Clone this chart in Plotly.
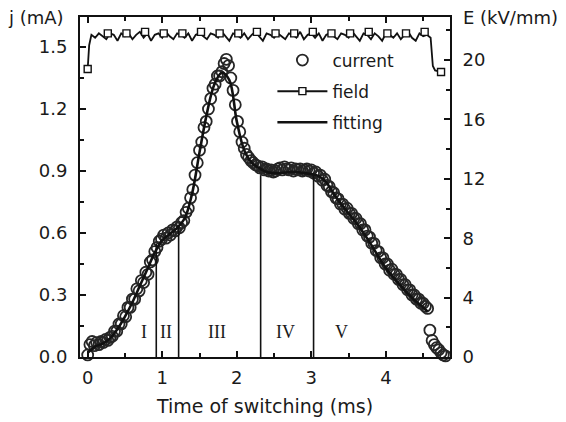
import numpy as np
import plotly.graph_objects as go

# current density j (mA), sampled every 0.03 ms
cur_t = list(np.round(np.arange(0, 4.58, 0.03), 2)) + [4.59, 4.62, 4.65, 4.68, 4.71, 4.74, 4.77, 4.80]
cur_j = [0.01, 0.06, 0.075, 0.055, 0.07, 0.06, 0.075, 0.07, 0.085, 0.08,
         0.095, 0.10, 0.125, 0.125, 0.16, 0.16, 0.20, 0.195, 0.24, 0.24,
         0.28, 0.28, 0.33, 0.32, 0.37, 0.36, 0.41, 0.40, 0.46, 0.47,
         0.51, 0.53, 0.56, 0.57, 0.59, 0.575, 0.60, 0.59, 0.615, 0.61,
         0.63, 0.625, 0.65, 0.66, 0.70, 0.72, 0.77, 0.81, 0.88, 0.94,
         1.00, 1.04, 1.11, 1.14, 1.20, 1.25, 1.30, 1.32, 1.36, 1.36,
         1.38, 1.42, 1.44, 1.41, 1.35, 1.29, 1.22, 1.14, 1.09, 1.04,
         1.01, 0.98, 0.965, 0.95, 0.94, 0.93, 0.925, 0.915, 0.92, 0.905,
         0.91, 0.90, 0.905, 0.895, 0.90, 0.91, 0.915, 0.905, 0.92, 0.91,
         0.905, 0.915, 0.90, 0.91, 0.905, 0.91, 0.90, 0.905, 0.91, 0.90,
         0.905, 0.89, 0.895, 0.875, 0.88, 0.855, 0.86, 0.83, 0.825, 0.80,
         0.795, 0.77, 0.765, 0.74, 0.74, 0.715, 0.72, 0.695, 0.695, 0.67,
         0.67, 0.645, 0.645, 0.615, 0.615, 0.585, 0.58, 0.55, 0.55, 0.515,
         0.51, 0.48, 0.48, 0.45, 0.45, 0.42, 0.425, 0.40, 0.40, 0.375,
         0.375, 0.35, 0.35, 0.325, 0.325, 0.30, 0.30, 0.28, 0.28, 0.26,
         0.26, 0.245, 0.235,
         0.13, 0.08, 0.06, 0.045, 0.035, 0.02, 0.01, 0.005]

# fitted curve
fit_t = [0.0, 0.1, 0.2, 0.3, 0.4, 0.5, 0.6, 0.7, 0.8, 0.9, 1.0, 1.1, 1.2, 1.3, 1.4, 1.5,
         1.6, 1.7, 1.8, 1.9, 2.0, 2.1, 2.2, 2.3, 2.4, 2.5, 2.6, 2.7, 2.8, 2.9, 3.0, 3.1,
         3.2, 3.3, 3.4, 3.5, 3.6, 3.7, 3.8, 3.9, 4.0, 4.1, 4.2, 4.3, 4.4, 4.5, 4.56]
fit_j = [0.02, 0.05, 0.065, 0.09, 0.135, 0.195, 0.265, 0.345, 0.425, 0.505, 0.565, 0.595,
         0.625, 0.67, 0.79, 0.99, 1.18, 1.32, 1.375, 1.34, 1.14, 1.00, 0.94, 0.915, 0.895,
         0.89, 0.89, 0.895, 0.895, 0.89, 0.885, 0.875, 0.845, 0.79, 0.74, 0.695, 0.65,
         0.60, 0.545, 0.485, 0.43, 0.385, 0.345, 0.305, 0.27, 0.24, 0.22]

# region boundaries (ms) and the height of the dividing lines
bound_t = [0.92, 1.22, 2.32, 3.03]
bound_j = [0.55, 0.63, 0.88, 0.88]
region_names = ["I", "II", "III", "IV", "V"]
region_t = [0.75, 1.05, 1.74, 2.65, 3.41]

# applied field E (kV/mm)
field_t = [0.0, 0.02] + list(np.round(np.arange(0.05, 4.61, 0.05), 2)) + [4.63, 4.66, 4.74]
field_e = [19.4, 21.0,
           21.7, 21.5, 21.8, 21.6, 21.4, 21.8, 21.7, 21.3, 21.8, 21.6,
           21.8, 21.4, 21.7, 21.9, 21.5, 21.8, 21.3, 21.7, 21.8, 21.5,
           21.9, 21.6, 21.4, 21.8, 21.7, 21.5, 21.8, 21.3, 21.7, 21.8,
           21.6, 21.4, 21.8, 21.7, 21.5, 21.9, 21.6, 21.3, 21.8, 21.7,
           21.5, 21.8, 21.4, 21.7, 21.9, 21.6, 21.3, 21.8, 21.7, 21.5,
           21.8, 21.6, 21.4, 21.8, 21.7, 21.5, 21.9, 21.4, 21.7, 21.8,
           21.5, 21.8, 21.3, 21.7, 21.8, 21.6, 21.4, 21.8, 21.7, 21.5,
           21.9, 21.6, 21.3, 21.8, 21.7, 21.4, 21.8, 21.6, 21.3, 21.8,
           21.7, 21.5, 21.8, 21.4, 21.7, 21.9, 21.5, 21.3, 21.8, 21.6,
           21.7, 21.5,
           19.6, 19.3, 19.2]
square_t = [0.0, 0.27, 0.52, 0.77, 1.02, 1.27, 1.52, 1.77, 2.02, 2.27, 2.52, 2.77,
            3.02, 3.27, 3.52, 3.77, 4.02, 4.27, 4.52, 4.74]
square_e = [19.4, 21.8, 21.8, 21.9, 21.8, 21.8, 21.9, 21.8, 21.8, 21.9, 21.8, 21.8,
            21.9, 21.8, 21.8, 21.9, 21.8, 21.8, 21.9, 19.2]

FONT = "DejaVu Sans"
INK = "#1a1a1a"

fig = go.Figure()

fig.add_trace(go.Scatter(
    x=cur_t, y=cur_j, mode="markers", name="current",
    legendgroup="a", legendrank=1, cliponaxis=False,
    marker=dict(symbol="circle-open", size=11, color="#262626", line=dict(width=1.8))
))

# field: noisy line plus sparse squares (None gaps so only the dense line joins them)
fig.add_trace(go.Scatter(
    x=field_t, y=field_e, mode="lines", yaxis="y2", showlegend=False,
    legendgroup="b", line=dict(color="#111", width=1.8)
))
sq_x = [v for t in square_t for v in (t, None)]
sq_y = [v for e in square_e for v in (e, None)]
fig.add_trace(go.Scatter(
    x=sq_x, y=sq_y, mode="lines+markers", yaxis="y2", name="field",
    legendgroup="b", legendrank=2, connectgaps=False, cliponaxis=False,
    line=dict(color="#111", width=2),
    marker=dict(symbol="square", size=7, color="white", line=dict(color="#111", width=1.4))
))

fig.add_trace(go.Scatter(
    x=fit_t, y=fit_j, mode="lines", name="fitting", line_shape="spline",
    legendgroup="c", legendrank=3, line=dict(color="#111", width=2.6)
))

# vertical region dividers
vx, vy = [], []
for t, j in zip(bound_t, bound_j):
    vx += [t, t, None]
    vy += [0, j, None]
fig.add_trace(go.Scatter(x=vx, y=vy, mode="lines", showlegend=False,
                         line=dict(color="#111", width=1.6)))

for name, t in zip(region_names, region_t):
    fig.add_annotation(x=t, y=0.12, text=name, showarrow=False,
                       font=dict(family="Liberation Serif", size=18, color=INK))

fig.add_annotation(x=-0.2, y=1.0, xref="paper", yref="paper", xanchor="left", yanchor="middle",
                   text="j (mA)", showarrow=False, font=dict(family=FONT, size=18, color=INK))
fig.add_annotation(x=1.03, y=1.0, xref="paper", yref="paper", xanchor="left", yanchor="middle",
                   text="E (kV/mm)", showarrow=False, font=dict(family=FONT, size=18, color=INK))

axis_common = dict(showline=True, linecolor="#111", linewidth=2, ticks="inside",
                   tickcolor="#111", tickwidth=2, ticklen=6, showgrid=False, zeroline=False,
                   tickfont=dict(family=FONT, size=18, color=INK))

# page body adds an 8px offset, so the figure is sized to fill the rest of the window
fig.update_layout(
    width=558, height=414,
    margin=dict(l=72, r=116, t=7, b=65),
    plot_bgcolor="white", paper_bgcolor="white",
    showlegend=True,
    legend=dict(x=0.52, y=0.925, xanchor="left", yanchor="top", bgcolor="rgba(0,0,0,0)",
                font=dict(family=FONT, size=17, color=INK), itemwidth=50,
                tracegroupgap=6),
    xaxis=dict(range=[-0.103, 4.86], tickvals=[0, 1, 2, 3, 4], mirror="ticks",
               minor=dict(ticks="inside", dtick=0.5, ticklen=4, tickcolor="#111", tickwidth=2),
               ticklabelstandoff=3,
               title=dict(text="Time of switching (ms)", font=dict(family=FONT, size=19, color=INK),
                          standoff=13),
               **axis_common),
    yaxis=dict(range=[0, 1.645], tickvals=[0, 0.3, 0.6, 0.9, 1.2, 1.5], tickformat=".1f",
               minor=dict(ticks="inside", dtick=0.15, ticklen=4, tickcolor="#111", tickwidth=2),
               ticklabelstandoff=7, **axis_common),
    yaxis2=dict(range=[0, 22.9], overlaying="y", side="right", tickvals=[0, 4, 8, 12, 16, 20],
                minor=dict(ticks="inside", dtick=2, ticklen=4, tickcolor="#111", tickwidth=2),
                ticklabelstandoff=7, **axis_common),
)

fig.write_html("out.html")
